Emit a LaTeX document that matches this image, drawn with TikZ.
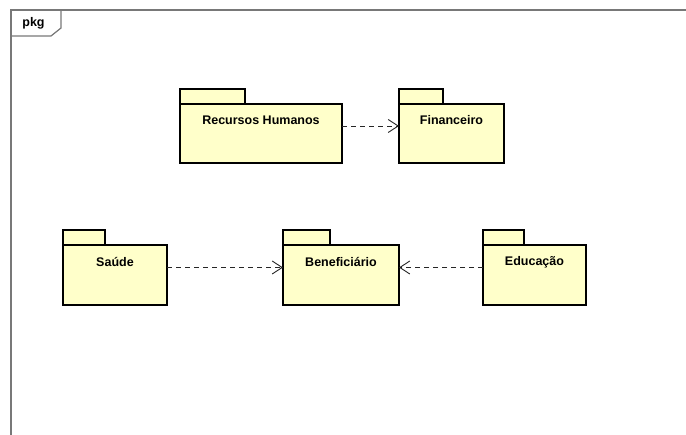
\documentclass[tikz,border=0pt]{standalone}
\usepackage{fontspec}
\setmainfont{Liberation Sans}
\usetikzlibrary{arrows.meta}

\definecolor{pkgfill}{RGB}{255,255,202}
\definecolor{framegray}{RGB}{120,120,120}

\begin{document}
\begin{tikzpicture}[x=1pt,y=1pt,>={Straight Barb[length=10pt,width=13pt]},
  pkg/.style={draw=black,line width=1.6pt,fill=pkgfill,minimum height=59pt,inner sep=0pt,outer sep=0pt},
  pkgtab/.style={draw=black,line width=1.6pt,fill=pkgfill,minimum height=15pt,inner sep=0pt,outer sep=0pt,anchor=south west},
  pkgname/.style={font=\bfseries\fontsize{12.5}{15}\selectfont,inner sep=0pt},
  dep/.style={->,dash pattern=on 5pt off 4pt,line width=0.9pt,draw=black!85}]
  \useasboundingbox[fill=white] (0,0) rectangle (686,435);
  \draw[framegray,line width=1.2pt] (686,425) -- (11,425) -- (11,0);
  \draw[framegray,line width=1.2pt] (11,425) -- (61,425) -- (61,407) -- (51,399) -- (11,399);
  \node[pkgname] (frame-lbl) at (33.5,411.5) {pkg};

  \node[pkg,minimum width=162pt] (rh) at (261,301.5) {};
  \node[pkgtab,minimum width=65pt] (rh-tab) at (rh.north west) {};
  \node[pkgname] (rh-lbl) at ([yshift=-16.5pt]rh.north) {Recursos Humanos};

  \node[pkg,minimum width=105pt] (fin) at (451.5,301.5) {};
  \node[pkgtab,minimum width=44pt] (fin-tab) at (fin.north west) {};
  \node[pkgname] (fin-lbl) at ([yshift=-16.5pt]fin.north) {Financeiro};

  \node[pkg,minimum width=104pt,minimum height=60pt] (saude) at (115,160) {};
  \node[pkgtab,minimum width=42pt] (saude-tab) at (saude.north west) {};
  \node[pkgname] (saude-lbl) at ([yshift=-17pt]saude.north) {Saúde};

  \node[pkg,minimum width=116pt,minimum height=60pt] (benef) at (341,160) {};
  \node[pkgtab,minimum width=47pt] (benef-tab) at (benef.north west) {};
  \node[pkgname] (benef-lbl) at ([yshift=-17pt]benef.north) {Beneficiário};

  \node[pkg,minimum width=103pt,minimum height=60pt] (educ) at (534.5,160) {};
  \node[pkgtab,minimum width=41pt] (educ-tab) at (educ.north west) {};
  \node[pkgname] (educ-lbl) at ([yshift=-17pt]educ.north) {Educação};

  \draw[dep] ([yshift=7.5pt]rh.east) -- ([yshift=7.5pt]fin.west);
  \draw[dep] ([yshift=7.5pt]saude.east) -- ([yshift=7.5pt]benef.west);
  \draw[dep] ([yshift=7.5pt]educ.west) -- ([yshift=7.5pt]benef.east);
\end{tikzpicture}
\end{document}
